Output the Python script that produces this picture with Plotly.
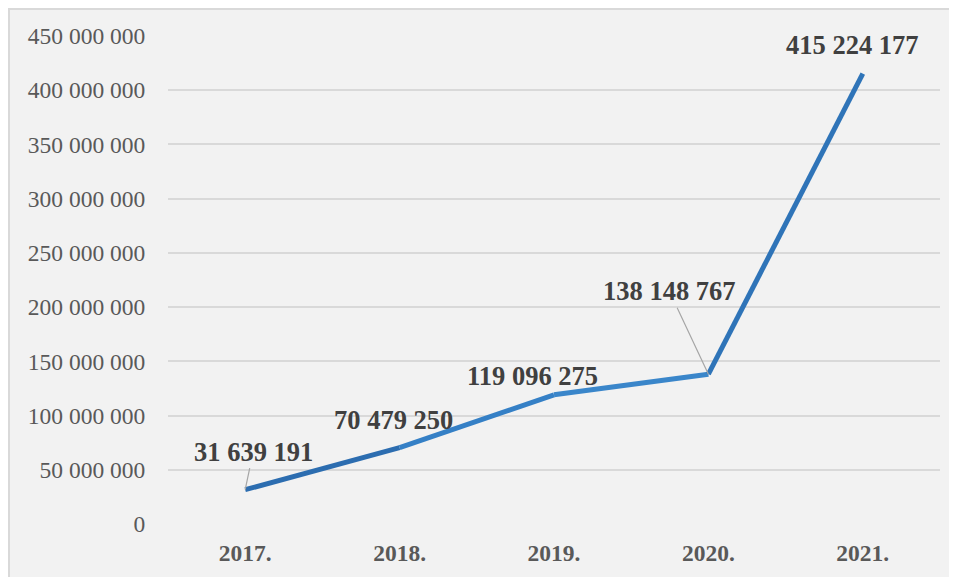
import plotly.graph_objects as go

years = ["2017.", "2018.", "2019.", "2020.", "2021."]
values = [31639191, 70479250, 119096275, 138148767, 415224177]
label_texts = ["31 639 191", "70 479 250", "119 096 275", "138 148 767", "415 224 177"]

seg_colors = ["#2c6db0", "#3580c6", "#3a86ca", "#2f74b8"]

OFF = 8  # page body margin
W, H = 957 - OFF, 577 - OFF
L, T = 168 - OFF, 36 - OFF
R = W - (940 - OFF)
B = H - (524 - OFF)
pw, ph = W - L - R, H - T - B

fig = go.Figure()
for i in range(len(years) - 1):
    fig.add_trace(go.Scatter(
        x=years[i:i + 2], y=values[i:i + 2], mode="lines",
        line=dict(color=seg_colors[i], width=5), hoverinfo="skip", showlegend=False))

# label offsets (pixels) relative to points: (ax, ay, show leader)
offsets = [(8, -38, True), (-6, -28, False), (-22, -19, False), (-39, -83, True), (-10, -29, False)]
for i, (v, t, (ax, ay, lead)) in enumerate(zip(values, label_texts, offsets)):
    fig.add_annotation(
        x=i, y=v, text="<b>%s</b>" % t, showarrow=True, ax=ax, ay=ay,
        arrowhead=0, arrowwidth=1.2, arrowcolor="#a6a6a6" if lead else "rgba(0,0,0,0)",
        standoff=0, startstandoff=0,
        font=dict(family="Liberation Serif", size=26.5, color="#404040"))

def px_x(p):
    return (p - OFF - L) / pw

def px_y(p):
    return (H - B - (p - OFF)) / ph

fig.add_shape(type="rect", xref="paper", yref="paper",
              x0=px_x(9), x1=px_x(990), y0=px_y(600), y1=px_y(9),
              fillcolor="#f2f2f2", line=dict(color="#d9d9d9", width=2), layer="below")

fig.update_layout(
    width=W, height=H, margin=dict(l=L, r=R, t=T, b=B, autoexpand=False),
    paper_bgcolor="white", plot_bgcolor="rgba(0,0,0,0)",
    separators=", ",
    xaxis=dict(type="category", showgrid=False, showline=False, zeroline=False,
               automargin=False,
               ticks="outside", ticklen=8, tickcolor="rgba(0,0,0,0)",
               tickfont=dict(family="Liberation Serif", size=23.5, color="#595959", weight="bold"),
               range=[-0.5, 4.5]),
    yaxis=dict(range=[0, 450000000], dtick=50000000, tickformat=",d",
               showgrid=True, gridcolor="#d9d9d9", gridwidth=1.5, zeroline=False,
               showline=False, ticks="outside", ticklen=17, tickcolor="rgba(0,0,0,0)",
               automargin=False,
               tickfont=dict(family="Liberation Serif", size=23.5, color="#595959")),
)
fig.write_html("out.html")
